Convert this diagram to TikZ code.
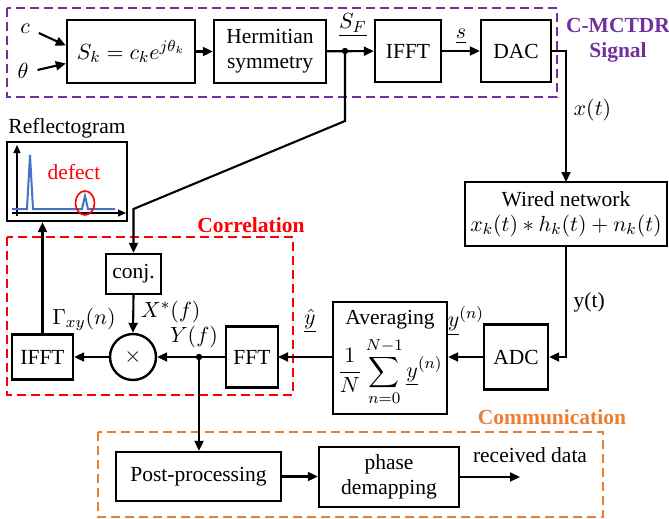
\documentclass[tikz,border=0pt]{standalone}
\usepackage{amsmath, amssymb}
\usepackage{fontspec}
\setmainfont{Liberation Serif}
\usetikzlibrary{calc,arrows.meta}
\definecolor{sigpurple}{RGB}{112,48,160}
\definecolor{corrred}{RGB}{255,0,0}
\definecolor{comorange}{RGB}{237,125,49}
\definecolor{curveblue}{RGB}{68,114,196}
\def\drawsig{\draw[-{Triangle[length=5pt,width=4.5pt]}, line width=1.05pt]}
\def\drawwire{\draw[line width=1.05pt]}
\def\groupbox{\draw[line width=1.1pt, dash pattern=on 4.5pt off 2.5pt]}
\def\blocknode{\node[draw=black, line width=1.2pt, fill=white, align=center, inner sep=1pt]}
\def\junction#1{\fill (#1) circle (3.2)}

\begin{document}
\begin{tikzpicture}[x=0.5pt,y=-0.5pt,font=\fontsize{10.75}{12.5}\selectfont]
\useasboundingbox (0,0) rectangle (669,519);

% -------- group frames ---------
\groupbox[color=sigpurple] (7,8) rectangle (557,97);
\node[color=sigpurple, font=\fontsize{10.75}{12.5}\selectfont\bfseries, align=center] (sigtitle) at (618,40) {C-MCTDR\\Signal};
\groupbox[color=corrred] (7,237) rectangle (293,395);
\node[color=corrred, font=\fontsize{10.75}{12.5}\selectfont\bfseries] (corrtitle) at (251,225) {Correlation};
\groupbox[color=comorange] (98,432) rectangle (603,517);
\node[color=comorange, font=\fontsize{10.75}{12.5}\selectfont\bfseries] (comtitle) at (552,417) {Communication};

% -------- signal generation ---------
\node (cin) at (25,29) {$c$};
\node (thin) at (23,71) {$\theta$};
\blocknode[minimum width=64pt, minimum height=31.5pt] (sk) at (131,51.5) {$S_k = c_k e^{j\theta_k}$};
\blocknode[minimum width=56pt, minimum height=31.5pt] (herm) at (270,51.5) {Hermitian\\symmetry};
\blocknode[minimum width=33pt, minimum height=31pt] (ifftA) at (408,51) {IFFT};
\blocknode[minimum width=35pt, minimum height=31pt] (dac) at (516,51) {DAC};
\coordinate (sf) at (345,51); % S_F branch point
\coordinate (dacout) at (566,51);
\drawsig ($ (cin.east) + (2,4) $) to ($ (sk.west) + (0,-6) $);
\drawsig ($ (thin.east) + (2,-1) $) to ($ (sk.west) + (0,12) $);
\drawsig (sk) to (herm);
\drawsig (herm) to (ifftA);
\junction{sf};
\node (sflab) at ($ (sf) + (8,-26) $) {$\underline{S_F}$};
\drawsig (ifftA) to node[above] {$\underline{s}$} (dac);
\drawsig (dac.east) -- (dacout) -- node[pos=0.45, right] {$x(t)$} (566,182);

% -------- channel and receiver ---------
\blocknode[minimum width=101pt, minimum height=32pt] (wired) at (566,214) {Wired network\\$x_k(t) * h_k(t) + n_k(t)$};
\blocknode[minimum width=32pt, minimum height=32.5pt] (adc) at (516,357) {ADC};
\blocknode[minimum width=57pt, minimum height=56pt] (avg) at (390,358) {Averaging\\[3pt]$\displaystyle\frac{1}{N}\sum_{n=0}^{N-1}\underline{y}^{(n)}$};
\coordinate (ycorner) at (566,357);
\drawsig (wired.south) -- node[pos=0.5, right] {y(t)} (ycorner) -- (adc.east);
\drawsig (adc.west) to (avg.east |- adc.west);
\node (ynlab) at (466,321) {$\underline{y}^{(n)}$};
\drawsig (avg.west |- adc.west) to (278,357);

% -------- correlation ---------
\blocknode[minimum width=26pt, minimum height=30.5pt] (fft) at (252,357) {FFT};
\node[circle, draw=black, line width=1.2pt, fill=white, minimum size=23pt, inner sep=0pt] (mult) at (133,357) {$\times$};
\blocknode[minimum width=30.5pt, minimum height=22.5pt] (ifftB) at (42.5,357) {IFFT};
\blocknode[minimum width=27.5pt, minimum height=20pt] (conj) at (133.5,274) {conj.};
\coordinate (yf) at (199,357); % Y(f) branch point
\node (yhatlab) at (310,321) {$\underline{\hat{y}}$};
\drawwire (fft.west) -- (yf);
\drawsig (yf) -- (mult.east);
\junction{yf};
\node (yflab) at (194,337) {$Y(f)$};
\drawsig (mult.west) -- (ifftB.east);
\node (gammalab) at (84,319) {$\Gamma_{xy}(n)$};
\drawsig (sf) -- (345,121) -- (133.5,209) -- (conj.north);
\drawsig (conj.south) -- node[right, pos=0.45] {$X^{*}(f)$} (mult.north);

% -------- reflectogram ---------
\node[draw=black, line width=1.2pt, minimum width=60pt, minimum height=39.5pt, inner sep=0pt] (refl) at (67,181.5) {};
\node (refltitle) at (67,128) {Reflectogram};
\draw[-{Triangle[length=4pt,width=3.5pt]}, line width=0.6pt] (17,216) -- (17,145);
\draw[-{Triangle[length=4pt,width=3.5pt]}, line width=0.6pt] (12,213) -- (126,213);
\draw[curveblue, line width=1pt] (12,209) -- (27,209) -- (30,155) -- (33,209) -- (82,209) -- (85,196) -- (88,209) -- (115,209);
\draw[corrred, line width=0.8pt] (85,203) ellipse [x radius=9.5, y radius=12];
\node[color=corrred] (defectlab) at (74,172) {defect};
\drawsig (ifftB.north) -- (refl.south -| ifftB.north);

% -------- communication ---------
\blocknode[minimum width=82.5pt, minimum height=24.5pt] (post) at (198.5,476.5) {Post-processing};
\blocknode[minimum width=70pt, minimum height=30pt] (phase) at (389,477) {phase\\demapping};
\coordinate (dataout) at (520,477);
\drawsig (yf) -- (post.north -| yf);
\drawsig (post.east) -- (phase.west |- post.east);
\drawsig (phase.east) -- (dataout);
\node (datalab) at (530,455) {received data};
\end{tikzpicture}
\end{document}
